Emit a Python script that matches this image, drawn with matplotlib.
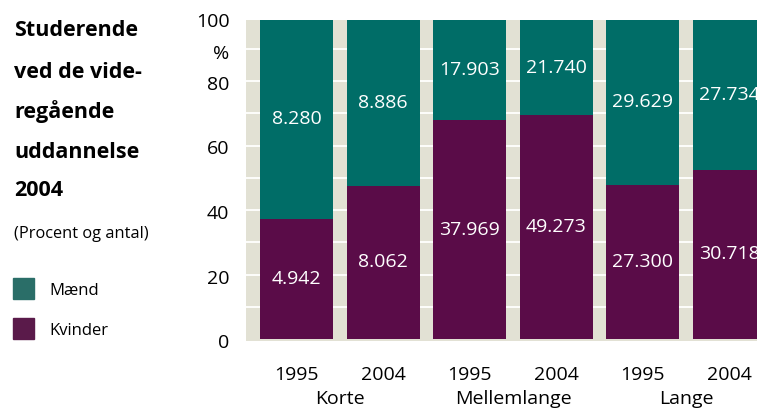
import matplotlib
matplotlib.use("Agg")
import matplotlib.pyplot as plt
from matplotlib.patches import Rectangle

plt.rcParams['font.family'] = ['Open Sans', 'DejaVu Sans']

# data
years = ['1995', '2004', '1995', '2004', '1995', '2004']
groups = ['Korte', 'Mellemlange', 'Lange']
maend = [8280, 8886, 17903, 21740, 29629, 27734]
kvinder = [4942, 8062, 37969, 49273, 27300, 30718]
maend_lbl = ['8.280', '8.886', '17.903', '21.740', '29.629', '27.734']
kvinder_lbl = ['4.942', '8.062', '37.969', '49.273', '27.300', '30.718']

teal = '#006d67'
purple = '#5a0c48'
bg = '#e2e1d4'

kv_pct = [100 * k / (k + m) for k, m in zip(kvinder, maend)]
m_pct = [100 - p for p in kv_pct]

fig = plt.figure(figsize=(7.57, 4.08), dpi=100)
ax = fig.add_axes([246 / 757, 67 / 408, 534 / 757, 321 / 408])
ax.set_facecolor(bg)
x = list(range(len(years)))
w = 0.844

for v in range(10, 100, 10):
    ax.axhline(v, color='white', lw=1.3, zorder=1)

ax.bar(x, kv_pct, width=w, color=purple, zorder=2)
ax.bar(x, m_pct, width=w, bottom=kv_pct, color=teal, zorder=2)

for i in x:
    ax.text(i, kv_pct[i] / 2, kvinder_lbl[i], ha='center', va='center',
            color='white', fontsize=14, zorder=3)
    top_mid = (kv_pct[i] + 99) / 2
    ax.text(i, top_mid, maend_lbl[i], ha='center', va='center',
            color='white', fontsize=14, zorder=3)

ax.set_xlim(-0.584, 5.584)
ax.set_ylim(0, 99)
for s in ax.spines.values():
    s.set_visible(False)

ax.set_yticks([-0.6, 19.4, 39.5, 59.5, 79.3, 89, 99])
ax.set_yticklabels(['0', '20', '40', '60', '80', '%', '100'], fontsize=14)
ax.tick_params(axis='y', length=0, pad=12)
ax.set_xticks(x)
ax.set_xticklabels(years, fontsize=14)
ax.tick_params(axis='x', length=0, pad=18)

for j, g in enumerate(groups):
    ax.text(2 * j + 0.5, -18.6, g, ha='center', va='center', fontsize=14,
            transform=ax.transData, clip_on=False)

# left side title and legend
title_lines = ['Studerende', 'ved de vide-', 'regående', 'uddannelse', '2004']
title_y = [31, 73, 112, 152, 190]
for t, yy in zip(title_lines, title_y):
    fig.text(14 / 757, 1 - yy / 408, t, ha='left', va='center',
             fontsize=15.5, fontweight='bold')
fig.text(14 / 757, 1 - 234 / 408, '(Procent og antal)', ha='left',
         va='center', fontsize=11.8)

for col, lbl, yy in [('#2a6e68', 'Mænd', 278), ('#5a1a4a', 'Kvinder', 318)]:
    fig.patches.append(Rectangle((13 / 757, 1 - (yy + 21) / 408), 21 / 757,
                                 21 / 408, transform=fig.transFigure,
                                 color=col))
    fig.text(49 / 757, 1 - (yy + 13) / 408, lbl, ha='left', va='center',
             fontsize=12)

fig.savefig('out.png', dpi=100)
